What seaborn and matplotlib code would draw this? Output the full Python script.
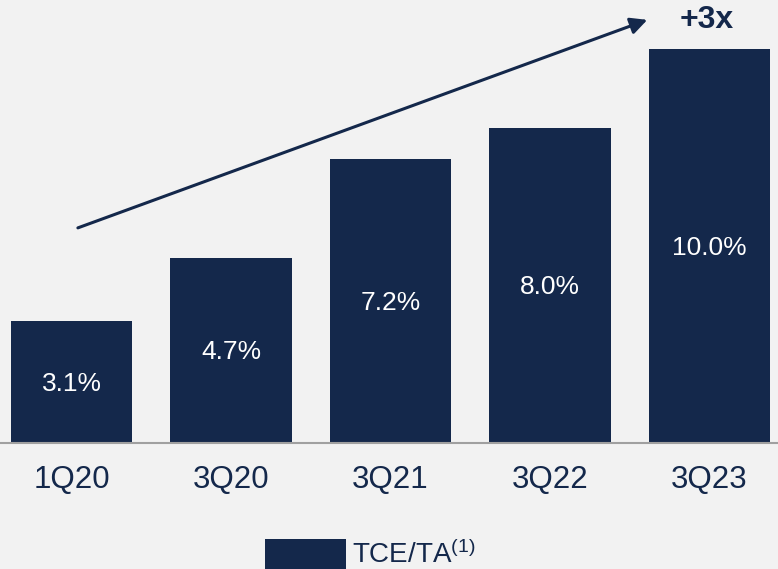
import numpy as np
import matplotlib
matplotlib.use("Agg")
import matplotlib.pyplot as plt
import pandas as pd
import seaborn as sns
from matplotlib.patches import Patch

# chart data
quarters = ["1Q20", "3Q20", "3Q21", "3Q22", "3Q23"]
tce_ta = [3.1, 4.7, 7.2, 8.0, 10.0]
series_name = "TCE/TA"
growth_label = "+3x"

NAVY = "#14284b"
BG = "#f2f2f2"

sns.set_style("white")
plt.rcParams["font.family"] = ["Liberation Sans", "DejaVu Sans"]
plt.rcParams["mathtext.fontset"] = "custom"
plt.rcParams["mathtext.rm"] = "Liberation Sans"
plt.rcParams["mathtext.it"] = "Liberation Sans"

df = pd.DataFrame({"quarter": quarters, "value": tce_ta})

fig = plt.figure(figsize=(7.78, 5.69), dpi=100, facecolor=BG)
ax = fig.add_axes([0, 126 / 569, 1, 443 / 569])
ax.set_facecolor(BG)

sns.barplot(data=df, x="quarter", y="value", color=NAVY, saturation=1,
            width=0.76, linewidth=0, ax=ax)

ax.set_xlim(-71.5 / 159.5, (778 - 71.5) / 159.5)
ax.set_ylim(0, 443 / 39.4)

for i, v in enumerate(tce_ta):
    ax.text(i, v / 2 - 0.05, f"{v:.1f}%", ha="center", va="center",
            color="white", fontsize=19)

for s in ["top", "right", "left"]:
    ax.spines[s].set_visible(False)
ax.spines["bottom"].set_color("#a0a0a0")
ax.spines["bottom"].set_linewidth(1.5)
ax.set_yticks([])
ax.set_xlabel("")
ax.set_ylabel("")
ax.tick_params(axis="x", length=0, pad=16, labelsize=22.5, labelcolor=NAVY)

# growth arrow
ax.annotate("", xy=(3.61, 10.74), xytext=(0.04, 5.46),
            arrowprops=dict(arrowstyle="-|>,head_length=1.0,head_width=0.5",
                            color=NAVY, lw=2.2, shrinkA=0, shrinkB=0))
ax.text(3.98, 10.74, growth_label, ha="center", va="center", color=NAVY,
        fontsize=23, fontweight="bold")

handle = Patch(facecolor=NAVY, edgecolor="none")
fig.legend([handle], [series_name + r"$^{(1)}$"], loc="upper left",
           bbox_to_anchor=(265 / 778, 1 - 539 / 569), frameon=False,
           fontsize=20, handlelength=2.9, handleheight=1.3,
           handletextpad=0.25, borderpad=0, borderaxespad=0,
           labelcolor=NAVY)

fig.savefig("out.png", dpi=100, facecolor=BG)
